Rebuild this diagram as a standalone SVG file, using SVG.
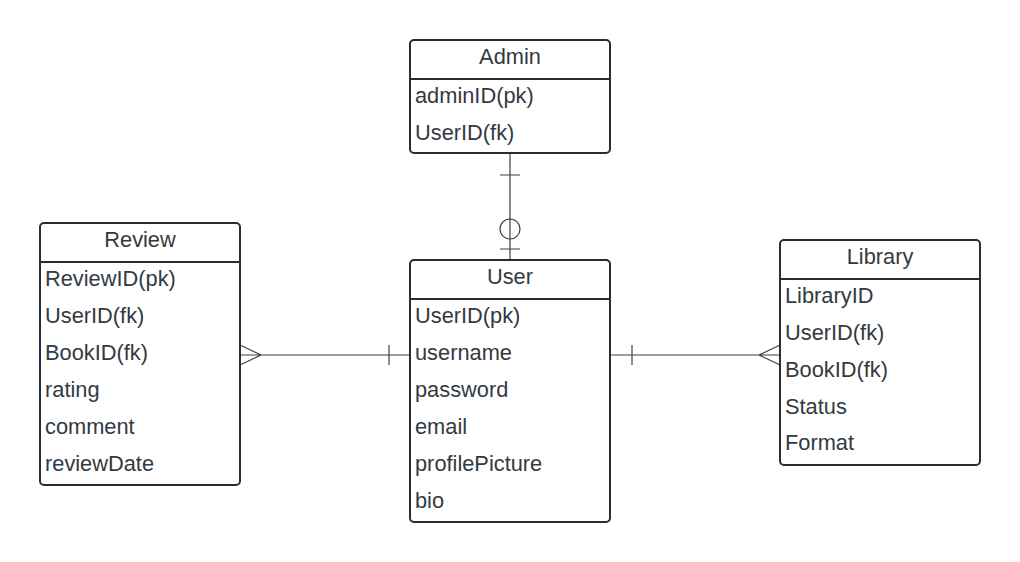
<svg xmlns="http://www.w3.org/2000/svg" width="1020" height="562" viewBox="0 0 1020 562">
<style>
.box{fill:#fff;stroke:#282c33;stroke-width:2}
.div{stroke:#282c33;stroke-width:2}
.t{font-family:"Liberation Sans",Arial,sans-serif;font-size:21.8px;fill:#333a42}
.h{text-anchor:middle}
.c{fill:none;stroke:#3a3f46;stroke-width:1.2}
</style>
<rect width="1020" height="562" fill="#fff"/>
<g id="connectors">
<path class="c" d="M510 153V260M500 175H520M500 249H520"/>
<circle class="c" cx="510" cy="229" r="10" fill="#fff"/>
<path class="c" d="M240 355H410M389 345V365M240 345L261 355L240 365"/>
<path class="c" d="M610 355H780M632 345V365M780 345L759 355L780 365"/>
</g>
<g id="admin">
<rect class="box" x="410" y="40" width="200" height="113" rx="4"/>
<line class="div" x1="410" y1="79" x2="610" y2="79"/>
<text class="t h" x="510" y="64">Admin</text>
<text class="t" x="415" y="103">adminID(pk)</text>
<text class="t" x="415" y="140">UserID(fk)</text>
</g>
<g id="user">
<rect class="box" x="410" y="260" width="200" height="262" rx="4"/>
<line class="div" x1="410" y1="299" x2="610" y2="299"/>
<text class="t h" x="510" y="284">User</text>
<text class="t" x="415" y="323">UserID(pk)</text>
<text class="t" x="415" y="360">username</text>
<text class="t" x="415" y="397">password</text>
<text class="t" x="415" y="434">email</text>
<text class="t" x="415" y="471">profilePicture</text>
<text class="t" x="415" y="508">bio</text>
</g>
<g id="review">
<rect class="box" x="40" y="223" width="200" height="262" rx="4"/>
<line class="div" x1="40" y1="262" x2="240" y2="262"/>
<text class="t h" x="140" y="247">Review</text>
<text class="t" x="45" y="286">ReviewID(pk)</text>
<text class="t" x="45" y="323">UserID(fk)</text>
<text class="t" x="45" y="360">BookID(fk)</text>
<text class="t" x="45" y="397">rating</text>
<text class="t" x="45" y="434">comment</text>
<text class="t" x="45" y="471">reviewDate</text>
</g>
<g id="library">
<rect class="box" x="780" y="240" width="200" height="225" rx="4"/>
<line class="div" x1="780" y1="279" x2="980" y2="279"/>
<text class="t h" x="880" y="264">Library</text>
<text class="t" x="785" y="303">LibraryID</text>
<text class="t" x="785" y="340">UserID(fk)</text>
<text class="t" x="785" y="377">BookID(fk)</text>
<text class="t" x="785" y="414">Status</text>
<text class="t" x="785" y="450">Format</text>
</g>
</svg>
